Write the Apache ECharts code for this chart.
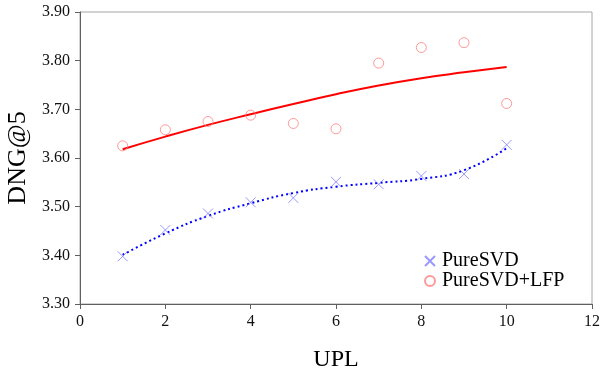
<!DOCTYPE html>
<html><head><meta charset="utf-8">
<script src="https://cdn.jsdelivr.net/npm/echarts@6/dist/echarts.min.js"></script>
<style>html,body{margin:0;padding:0;background:#fff}#c{width:600px;height:372px}</style>
</head><body><div id="c"></div>
<script>
var upl = [1, 2, 3, 4, 5, 6, 7, 8, 9, 10];
var pureSVD = [3.398, 3.452, 3.486, 3.509, 3.518, 3.551, 3.546, 3.563, 3.567, 3.627];
var pureSVDLFP = [3.625, 3.658, 3.675, 3.688, 3.671, 3.660, 3.795, 3.827, 3.837, 3.712];
var pureSVDTrend = [3.401, 3.445, 3.481, 3.507, 3.528, 3.541, 3.549, 3.557, 3.575, 3.620];
var pureSVDLFPTrend = [3.618, 3.644, 3.668, 3.690, 3.711, 3.731, 3.749, 3.764, 3.776, 3.787];
var xTicks = [0, 2, 4, 6, 8, 10, 12];
var yTicks = [3.30, 3.40, 3.50, 3.60, 3.70, 3.80, 3.90];

function pairs(xs, ys){ return xs.map(function(x,i){ return [x, ys[i]]; }); }
var FONT = '"Liberation Serif","Times New Roman",serif';
var cross = 'path://M0,0L10,10M10,0L0,10';

var chart = echarts.init(document.getElementById('c'), null, {renderer:'canvas'});
chart.setOption({
  animation: false,
  backgroundColor: '#fff',
  textStyle: {fontFamily: FONT},
  grid: {left: 80, right: 8, top: 12, bottom: 68, show: true, borderColor: '#a6a6a6', borderWidth: 1,
    containLabel: false, outerBoundsMode: 'none'},
  legend: {
    orient: 'vertical', left: 419, top: 246, itemGap: 0,
    itemWidth: 14, itemHeight: 10,
    textStyle: {fontFamily: FONT, fontSize: 20, color: '#000'},
    data: ['PureSVD', 'PureSVD+LFP']
  },
  xAxis: {
    type: 'value', min: xTicks[0], max: xTicks[xTicks.length-1], interval: 2,
    name: 'UPL', nameLocation: 'middle', nameGap: 44,
    nameTextStyle: {fontFamily: FONT, fontSize: 24, color: '#000'},
    axisLine: {lineStyle: {color: '#606060', width: 1}},
    axisTick: {show: true, length: 5, inside: false, lineStyle: {color: '#606060'}},
    axisLabel: {fontFamily: FONT, fontSize: 16, color: '#111', margin: 10},
    splitLine: {show: false}
  },
  yAxis: {
    type: 'value', min: yTicks[0], max: yTicks[yTicks.length-1], interval: 0.1,
    name: 'DNG@5', nameLocation: 'middle', nameGap: 44, nameRotate: 90,
    nameTextStyle: {fontFamily: FONT, fontSize: 26, color: '#000'},
    axisLine: {show: true, lineStyle: {color: '#606060', width: 1}},
    axisTick: {show: true, length: 5, inside: false, lineStyle: {color: '#606060'}},
    axisLabel: {fontFamily: FONT, fontSize: 16, color: '#111', margin: 10,
      formatter: function(v){ return v.toFixed(2); }},
    splitLine: {show: false}
  },
  series: [
    {
      name: 'PureSVD', type: 'scatter', data: pairs(upl, pureSVD),
      symbol: cross, symbolSize: 10,
      itemStyle: {color: 'rgba(0,0,0,0)', borderColor: '#7f7fff', borderWidth: 1},
      z: 3
    },
    {
      name: 'PureSVD+LFP', type: 'scatter', data: pairs(upl, pureSVDLFP),
      symbol: 'circle', symbolSize: 10,
      itemStyle: {color: 'rgba(255,255,255,0)', borderColor: '#ff7f7f', borderWidth: 1},
      z: 3
    },
    {
      name: 'PureSVD trend', type: 'line', data: pairs(upl, pureSVDTrend),
      smooth: true, showSymbol: false, symbol: 'none',
      lineStyle: {color: '#0000ff', width: 2, type: [2, 3]},
      z: 2
    },
    {
      name: 'PureSVD+LFP trend', type: 'line', data: pairs(upl, pureSVDLFPTrend),
      smooth: true, showSymbol: false, symbol: 'none',
      lineStyle: {color: '#ff0000', width: 2},
      z: 2
    }
  ]
});
</script>
</body></html>
